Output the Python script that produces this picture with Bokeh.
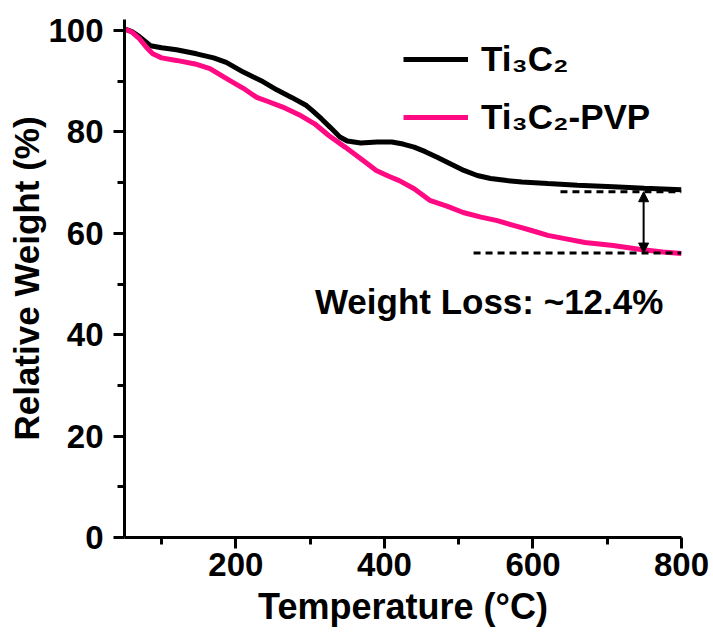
from bokeh.plotting import figure
from bokeh.models import (FixedTicker, Label, Arrow, NormalHead, Legend, LegendItem,
                          ColumnDataSource, Title)
from bokeh.embed import file_html
from bokeh.resources import INLINE

# ---- data ----
temp_ti3c2 = [50, 60, 70, 85, 100, 120, 147, 170, 187, 210, 234, 255, 275, 295, 303, 315,
              327, 340, 350, 368, 390, 410, 425, 440, 455, 471, 490, 507, 525, 543, 565,
              585, 620, 660, 708, 750, 800]
wt_ti3c2 = [100.3, 99.8, 98.8, 97.0, 96.6, 96.2, 95.4, 94.6, 93.7, 91.8, 90.1, 88.3, 86.8,
            85.2, 84.2, 82.6, 80.9, 79.0, 78.2, 77.8, 78.0, 78.0, 77.6, 77.0, 76.1, 75.0,
            73.6, 72.4, 71.4, 70.8, 70.4, 70.1, 69.8, 69.5, 69.2, 68.9, 68.6]

temp_pvp = [50, 60, 70, 80, 88, 100, 120, 145, 165, 192, 210, 228, 245, 263, 285, 306, 325,
            347, 370, 389, 405, 420, 440, 461, 485, 506, 530, 552, 575, 597, 620, 641, 670,
            708, 745, 775, 800]
wt_pvp = [100.3, 99.7, 98.4, 96.6, 95.4, 94.6, 94.1, 93.4, 92.5, 90.1, 88.6, 86.8, 85.9,
          84.9, 83.4, 81.6, 79.3, 77.0, 74.5, 72.4, 71.3, 70.4, 68.8, 66.5, 65.3, 64.1,
          63.2, 62.5, 61.5, 60.6, 59.6, 59.0, 58.2, 57.6, 56.8, 56.3, 56.0]

series_names = ["Ti\u2083C\u2082", "Ti\u2083C\u2082-PVP"]
series_colors = ["#000000", "#FF0A82"]

# reference (dashed) levels and where the dashed guides start
level_values = [68.2, 56.1]
level_x_start = [637, 520]
level_x_end = [800, 800]
arrow_temp = 749
loss_text = "Weight Loss: ~12.4%"

x_major = [200, 400, 600, 800]
x_minor = [100, 300, 500, 700]
y_major = [0, 20, 40, 60, 80, 100]
y_minor = [10, 30, 50, 70, 90]

FONT = "Liberation Sans"

p = figure(width=713, height=635, x_range=(50, 800), y_range=(0, 102.17),
           output_backend="svg", toolbar_location=None,
           min_border_left=124, min_border_right=32, min_border_top=19,
           min_border_bottom=98)
p.outline_line_color = None
p.xgrid.visible = False
p.ygrid.visible = False

src1 = ColumnDataSource(dict(x=temp_ti3c2, y=wt_ti3c2))
src2 = ColumnDataSource(dict(x=temp_pvp, y=wt_pvp))
r1 = p.line("x", "y", source=src1, line_color=series_colors[0], line_width=5)
r2 = p.line("x", "y", source=src2, line_color=series_colors[1], line_width=5)

# dashed guide levels
p.segment(x0=level_x_start, y0=level_values, x1=level_x_end, y1=level_values,
          line_color="black", line_width=3, line_dash="7 5")

# double arrow
p.add_layout(Arrow(x_start=arrow_temp, y_start=level_values[1],
                   x_end=arrow_temp, y_end=level_values[0],
                   line_width=2, line_color="black",
                   start=NormalHead(size=10, fill_color="black", line_color="black"),
                   end=NormalHead(size=10, fill_color="black", line_color="black")))

p.add_layout(Label(x=541, y=46.6, text=loss_text, text_align="center",
                   text_baseline="alphabetic", text_font=FONT, text_font_style="bold",
                   text_font_size="35px", text_color="black"))

# axes
for ax, maj, mnr in ((p.xaxis[0], x_major, x_minor), (p.yaxis[0], y_major, y_minor)):
    ax.ticker = FixedTicker(ticks=maj, minor_ticks=mnr)
    ax.axis_line_width = 3
    ax.major_tick_line_width = 3
    ax.minor_tick_line_width = 3
    ax.major_tick_in = 0
    ax.major_tick_out = 11
    ax.minor_tick_in = 0
    ax.minor_tick_out = 7
    ax.major_label_text_font = FONT
    ax.major_label_text_font_style = "bold"
    ax.major_label_text_font_size = "33px"
    ax.major_label_text_color = "black"

p.yaxis[0].major_label_standoff = 10
p.xaxis[0].major_label_standoff = 4
p.xaxis[0].axis_label = "Temperature (\u00b0C)"
p.xaxis[0].axis_label_text_font = FONT
p.xaxis[0].axis_label_text_font_style = "bold"
p.xaxis[0].axis_label_text_font_size = "36px"
p.xaxis[0].axis_label_standoff = 7
p.xaxis[0].axis_label_text_color = "black"

ytitle = Title(text="Relative Weight (%)", align="center", offset=22, standoff=0,
               text_font=FONT, text_font_style="bold", text_font_size="35px",
               text_color="black")
p.add_layout(ytitle, "left")

legend = Legend(items=[LegendItem(label=series_names[0], renderers=[r1]),
                       LegendItem(label=series_names[1], renderers=[r2])],
                location=(279, 396), orientation="vertical")
legend.glyph_width = 65
legend.glyph_height = 48
legend.label_height = 48
legend.label_standoff = 13
legend.spacing = 10
legend.padding = 0
legend.margin = 0
legend.border_line_color = None
legend.background_fill_alpha = 0
legend.label_text_font = FONT
legend.label_text_font_style = "bold"
legend.label_text_font_size = "35px"
legend.label_text_color = "black"
p.add_layout(legend)

open("out.html", "w").write(file_html(p, INLINE))
